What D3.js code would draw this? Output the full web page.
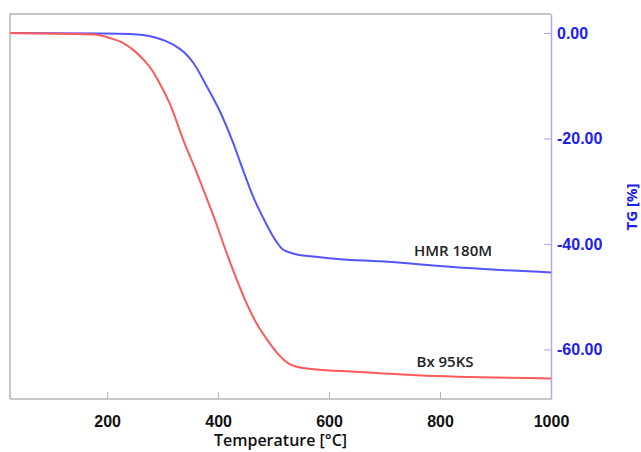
<!DOCTYPE html>
<html>
<head>
<meta charset="utf-8">
<script src="https://cdn.jsdelivr.net/npm/d3@7"></script>
<style>
  body { margin: 0; background: #fff; }
  svg { display: block; font-family: "Open Sans", sans-serif; }
</style>
</head>
<body>
<div id="plot"></div>
<script>
// Bx 95KS: temperature (°C) and TG (%)
const bxTemps = [25, 175, 205, 229, 247, 265, 280, 298, 313, 337, 362, 391, 421, 452, 470, 488, 506, 526, 542, 578, 638, 692, 758, 1000];
const bxValues = [0, -0.3, -0.95, -1.9, -3.2, -5.0, -6.9, -10.2, -13.4, -20.2, -26.6, -34.5, -43.3, -51.4, -55.2, -58.1, -60.6, -62.6, -63.3, -63.8, -64.2, -64.5, -64.9, -65.5];
// HMR 180M
const hmrTemps = [25, 187, 240, 265, 285, 305, 325, 340, 355, 380, 403, 427, 445, 463, 481, 497, 506, 515, 535, 571, 620, 692, 841, 1000];
const hmrValues = [0, -0.1, -0.2, -0.4, -0.8, -1.5, -2.6, -3.8, -5.6, -10.2, -14.8, -20.8, -26.0, -31.0, -35.0, -38.2, -39.7, -40.9, -41.8, -42.4, -42.9, -43.3, -44.5, -45.4];
const xTicks = [200, 400, 600, 800, 1000];
const yTicks = [0, -20, -40, -60];

const width = 641;
const height = 452;
const margin = { top: 14, right: 90, bottom: 53, left: 10 };

const svg = d3.select("#plot")
  .append("svg")
  .attr("width", width)
  .attr("height", height);

const x = d3.scaleLinear()
  .domain([25, 1000])
  .range([margin.left, width - margin.right]);

const y = d3.scaleLinear()
  .domain([-69.4, 3.6])
  .range([height - margin.bottom, margin.top]);

// plot frame (grey top / left)
svg.append("path")
  .attr("d", `M${x(1000)},${y(3.6)}H${x(25)}V${y(-69.4)}`)
  .attr("fill", "none")
  .attr("stroke", "#b4b4b4")
  .attr("stroke-width", 1.5);

// x axis
const xAxis = svg.append("g")
  .attr("transform", `translate(0,${height - margin.bottom})`)
  .call(d3.axisBottom(x).tickValues(xTicks).tickFormat(d3.format("d"))
    .tickSizeInner(-7).tickSizeOuter(0).tickPadding(17));
xAxis.select(".domain").attr("stroke", "#b4b4b4").attr("stroke-width", 1.5)
  .attr("d", `M${x(25)},0H${x(1000)}`);
xAxis.selectAll(".tick line").attr("stroke", "#b4b4b4");
xAxis.selectAll("text")
  .attr("fill", "#111")
  .attr("font-size", 16)
  .attr("font-weight", 600);

// y axis on the right
const yAxis = svg.append("g")
  .attr("transform", `translate(${width - margin.right},0)`)
  .call(d3.axisRight(y).tickValues(yTicks)
    .tickSizeInner(-7).tickSizeOuter(0).tickPadding(6));
yAxis.select(".domain").attr("stroke", "#a8a8ff").attr("stroke-width", 1.5);
yAxis.selectAll(".tick line").attr("stroke", "#a8a8ff");
yAxis.selectAll("text")
  .attr("fill", "#2020ee")
  .attr("font-size", 16)
  .attr("font-weight", 700)
  .text(d => d.toFixed(2));

// curves
const line = d3.line()
  .x(d => x(d[0]))
  .y(d => y(d[1]))
  .curve(d3.curveMonotoneX);

svg.append("path")
  .attr("d", line(d3.zip(hmrTemps, hmrValues)))
  .attr("fill", "none")
  .attr("stroke", "#5555ff")
  .attr("stroke-width", 2);

svg.append("path")
  .attr("d", line(d3.zip(bxTemps, bxValues)))
  .attr("fill", "none")
  .attr("stroke", "#ff5a5a")
  .attr("stroke-width", 2);

// curve labels
svg.append("text")
  .attr("x", x(800) + 13)
  .attr("y", y(-42.3))
  .attr("text-anchor", "middle")
  .attr("font-size", 15)
  .attr("font-weight", 600)
  .attr("fill", "#222")
  .text("HMR 180M");

svg.append("text")
  .attr("x", x(800) + 5)
  .attr("y", y(-63.4))
  .attr("text-anchor", "middle")
  .attr("font-size", 15)
  .attr("font-weight", 600)
  .attr("fill", "#222")
  .text("Bx 95KS");

// axis titles
svg.append("text")
  .attr("x", (margin.left + width - margin.right) / 2)
  .attr("y", 446)
  .attr("text-anchor", "middle")
  .attr("font-size", 16)
  .attr("font-weight", 600)
  .attr("fill", "#111")
  .text("Temperature [°C]");

svg.append("text")
  .attr("transform", "rotate(-90)")
  .attr("x", -207)
  .attr("y", 637)
  .attr("text-anchor", "middle")
  .attr("font-size", 15)
  .attr("font-weight", 700)
  .attr("fill", "#2020ee")
  .text("TG [%]");
</script>
</body>
</html>
